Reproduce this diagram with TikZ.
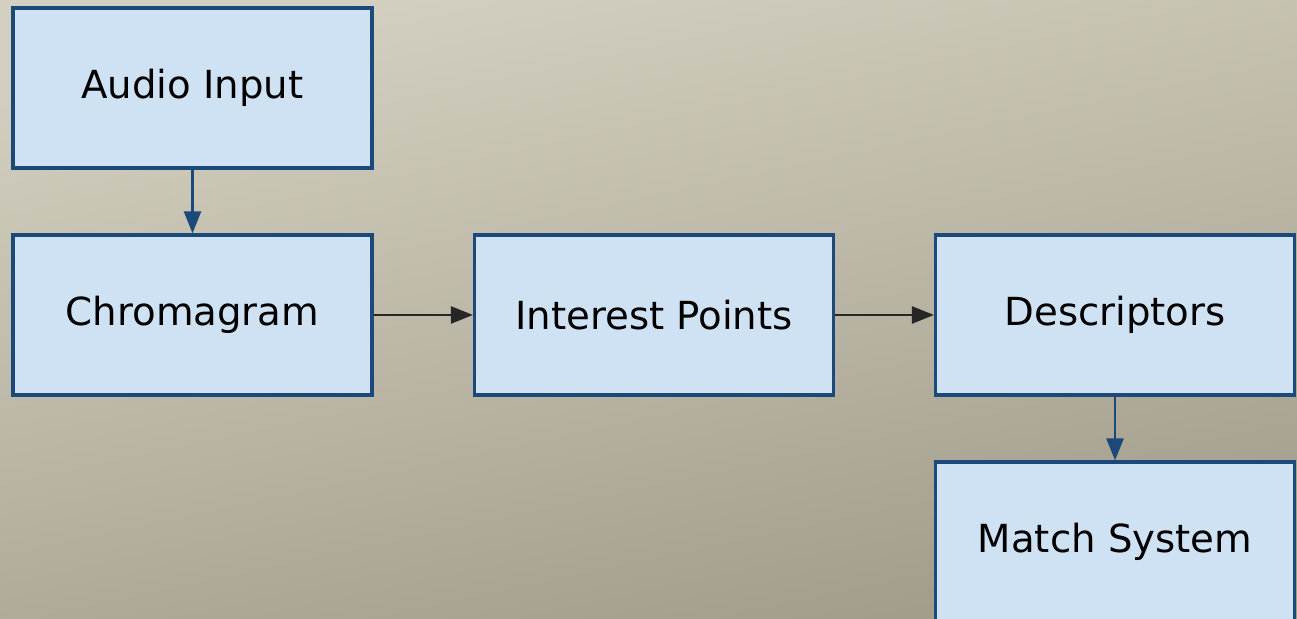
\documentclass[tikz,border=0pt]{standalone}
\usepackage{fontspec}
\setmainfont{DejaVu Sans}
\usetikzlibrary{arrows.meta}
\definecolor{boxfill}{HTML}{CFE2F3}
\definecolor{boxline}{HTML}{1B4A7A}
\definecolor{bgtop}{HTML}{D4D0C1}
\definecolor{bgbottom}{HTML}{A29D8A}
\tikzset{
	stagebox/.style={draw=boxline, fill=boxfill, line width=0.9pt, minimum width=3.59cm, minimum height=1.6cm, inner sep=0pt, font=\fontsize{11}{13}\selectfont},
	flowarrow/.style={line width=0.7pt, -{Triangle[length=2.2mm,width=1.7mm]}}
}

\begin{document}
\begin{tikzpicture}
			%%%%% BACKGROUND %%%%%
			\useasboundingbox (0, 0) rectangle (12.97, 6.19);
			\shade[top color=bgtop, bottom color=bgbottom, shading angle=12] (0, 0) rectangle (12.97, 6.19);
			
			%%%%% STAGES %%%%%
			\node[stagebox] (audio) at (1.925, 5.31) {Audio Input};
			\node[stagebox] (chroma) at (1.925, 3.04) {Chromagram};
			\node[stagebox] (interest) at (6.54, 3.04) {Interest Points};
			\node[stagebox] (descr) at (11.15, 3.04) {Descriptors};
			\node[stagebox] (match) at (11.15, 0.77) {Match System};
			
			%%%%% FLOW %%%%%
			\draw[flowarrow, color=boxline] (audio) -- (chroma);
			\draw[flowarrow, color=black!85] (chroma) -- (interest);
			\draw[flowarrow, color=black!85] (interest) -- (descr);
			\draw[flowarrow, color=boxline] (descr) -- (match);
		\end{tikzpicture}
\end{document}
